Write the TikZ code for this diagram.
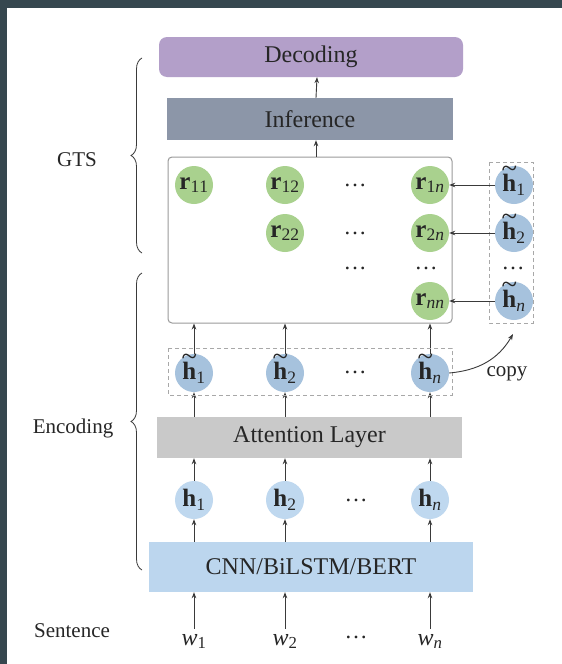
\documentclass[tikz,border=0pt]{standalone}
\usepackage{fontspec}
\usepackage{graphicx}
\setmainfont{Liberation Serif}
\usetikzlibrary{arrows.meta,decorations.pathreplacing}
\definecolor{framebg}{HTML}{36474F}
\definecolor{decodecol}{HTML}{B39FC9}
\definecolor{infercol}{HTML}{8C96A8}
\definecolor{attcol}{HTML}{C9C9C9}
\definecolor{enccol}{HTML}{BCD6EE}
\definecolor{hcol}{HTML}{BFD8EF}
\definecolor{tildecol}{HTML}{A6C2DD}
\definecolor{cellcol}{HTML}{A9D18E}
\definecolor{arrcol}{HTML}{3A3A3A}
\definecolor{dashcol}{HTML}{A8A8A8}
\definecolor{gridcol}{HTML}{9A9A9A}
\newcommand{\htil}{\mathord{\ooalign{\textbf{h}\cr
  \hidewidth\raisebox{14pt}{\scalebox{1.15}[1.1]{\textasciitilde}}\hidewidth\cr}}}
\newcommand{\hdots}{\textup{\char"2026}}

\begin{document}
\begin{tikzpicture}[
  x=1pt, y=-1pt,
  every node/.style={font=\fontsize{24}{28}\selectfont, text=black!85},
  block/.style={inner sep=0pt},
  unit/.style={circle, inner sep=0pt, minimum size=38pt, font=\fontsize{25}{28}\selectfont},
  rcell/.style={unit, fill=cellcol},
  hcell/.style={unit, fill=hcol},
  tcell/.style={unit, fill=tildecol},
  dots/.style={inner sep=0pt, font=\fontsize{23}{26}\selectfont},
  side/.style={anchor=base, font=\fontsize{21}{24}\selectfont},
  arr/.style={draw=arrcol, line width=0.9pt, -{Stealth[length=6pt,width=4.5pt]}},
  dashbox/.style={draw=dashcol, line width=0.9pt, dash pattern=on 4pt off 3pt},
  grouping/.style={draw=arrcol, line width=0.8pt, decorate,
    decoration={brace, amplitude=11pt}}
]
\useasboundingbox (0,0) rectangle (562,664);
\fill[framebg] (0,0) rectangle (562,664);
\fill[white] (7,8) rectangle (562,664);

% layers
\node[block, fill=decodecol, rounded corners=8pt, minimum width=304pt, minimum height=40pt] (dec) at (311,57) {Decoding};
\node[block, fill=infercol, minimum width=286pt, minimum height=42pt] (inf) at (310,119) {Inference};
\node[block, draw=gridcol, line width=1pt, rounded corners=4pt, minimum width=284pt, minimum height=166pt] (grid) at (310,240) {};
\node[block, fill=attcol, minimum width=305pt, minimum height=41pt] (att) at (309.5,437.5) {Attention Layer};
\node[block, fill=enccol, minimum width=324pt, minimum height=50pt] (cnn) at (311,567) {CNN/BiLSTM/BERT};

\draw[arr] ([xshift=6pt]inf.north) -- ([xshift=6pt]dec.south);
\draw[arr] ([xshift=6pt]grid.north) -- ([xshift=6pt]inf.south);

% grid tagging cells
\node[rcell] (r11) at (194,185) {$\mathbf{r}_{\mathrm{11}}$};
\node[rcell] (r12) at (285,185) {$\mathbf{r}_{\mathrm{12}}$};
\node[rcell] (r1n) at (430,185) {$\mathbf{r}_{\mathrm{1}\mathit{n}}$};
\node[rcell] (r22) at (285,233) {$\mathbf{r}_{\mathrm{22}}$};
\node[rcell] (r2n) at (430,233) {$\mathbf{r}_{\mathrm{2}\mathit{n}}$};
\node[rcell] (rnn) at (430,301) {$\mathbf{r}_{\mathit{nn}}$};
\node[dots] (d1) at (355,185) {\hdots};
\node[dots] (d2) at (355,233) {\hdots};
\node[dots] (d3) at (355,268) {\hdots};
\node[dots] (d4) at (426,268) {\hdots};

% copied representations
\node[tcell] (t1) at (514,185) {$\htil_{\mathrm{1}}$};
\node[tcell] (t2) at (514,233) {$\htil_{\mathrm{2}}$};
\node[dots] (d5) at (513,268) {\hdots};
\node[tcell] (tn) at (514,301) {$\htil_{\mathit{n}}$};
\draw[dashbox] (489,162) rectangle (533,323);
\foreach \a/\b in {1/r1n, 2/r2n, n/rnn}
  \draw[arr] (t\a) -- (\b);

% encoder columns
\foreach \i/\x/\s in {1/194/\mathrm{1}, 2/285/\mathrm{2}, n/430/\mathit{n}} {
  \node[tcell] (m\i) at (\x,373) {$\htil_{\s}$};
  \node[hcell] (h\i) at (\x,500) {$\mathbf{h}_{\s}$};
  \node[inner sep=5pt, anchor=base] (w\i) at (\x,645) {$\mathit{w}_{\s}$};
  \draw[arr] (w\i) -- (w\i |- cnn.south);
  \draw[arr] (cnn.north -| h\i) -- (h\i);
  \draw[arr] (h\i) -- (h\i |- att.south);
  \draw[arr] (att.north -| m\i) -- (m\i);
  \draw[arr] (m\i) -- (m\i |- grid.south);
}
\node[dots] (d6) at (355,372) {\hdots};
\node[dots] (d7) at (356,500) {\hdots};
\node[dots] (d8) at (356,637) {\hdots};
\draw[dashbox] (168,348) rectangle (452,395);

\coordinate (copyend) at (513,334);
\draw[arr] (mn.east) to[out=5,in=240] (copyend);
\node[side] (copy) at (507,376) {copy};

% groups
\draw[grouping] (142,253) -- (142,58);
\draw[grouping] (142,570) -- (142,273);
\node[side] (gts) at (77,166) {GTS};
\node[side] (enc) at (73,433) {Encoding};
\node[side] (sent) at (72,637) {Sentence};
\end{tikzpicture}
\end{document}
